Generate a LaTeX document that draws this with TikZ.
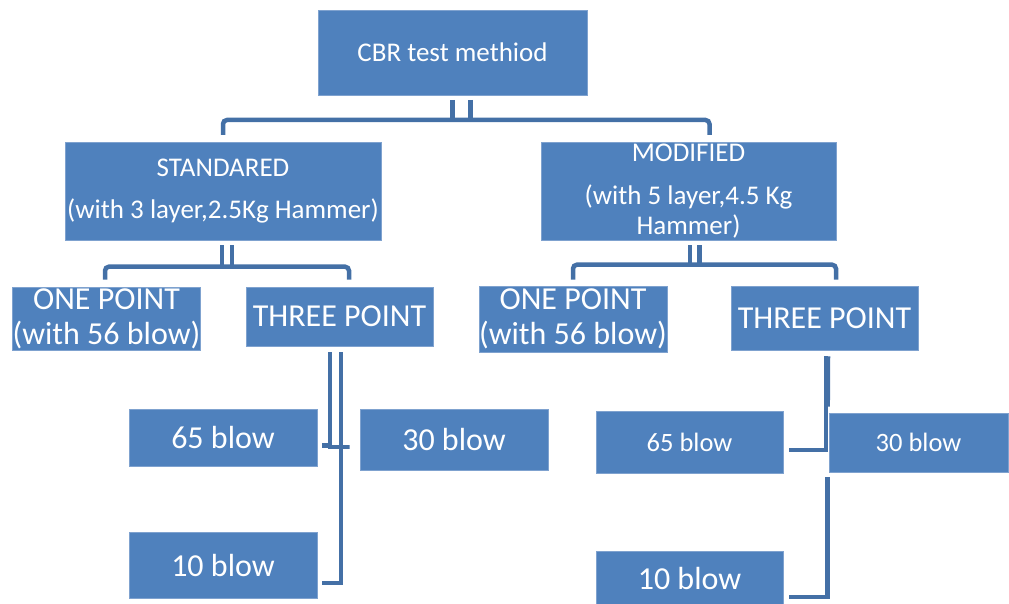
\documentclass[tikz,border=0pt]{standalone}
\usepackage{fontspec}
\setmainfont{Carlito}
\usetikzlibrary{calc}
\definecolor{boxblue}{HTML}{4F81BD}
\definecolor{boxedge}{HTML}{7FA2CF}
\definecolor{linkblue}{HTML}{4470A6}
\begin{document}
\begin{tikzpicture}[x=1pt,y=1pt,
	box/.style={ fill=boxblue, draw=boxedge, line width=0.6pt, text=white, align=center, inner sep=0pt },
	midtext/.style={ font=\fontsize{27}{30}\selectfont },
	bigtext/.style={ font=\fontsize{32}{35}\selectfont },
	smalltext/.style={ font=\fontsize{26.5}{30}\selectfont },
	link/.style={ draw=linkblue, line width=4.5pt }
]
\useasboundingbox (0,0) rectangle (1009,-604);

% connectors first, boxes on top
\coordinate (topS) at (452.5,-95);
\coordinate (stdN) at (223,-142);
\coordinate (modN) at (688.5,-142);
\draw[link] ($(topS)+(0,-5)$) -- ($(topS)+(0,-25)$);
\draw[link] ($(topS)+(18,-5)$) -- ($(topS)+(18,-25)$);
\draw[link,rounded corners=4pt] ($(stdN)+(0,7)$) |- ($(modN)+(21,22)$) -- ($(modN)+(21,7)$);

\node at (452.5,-52.5) (top) [box,midtext,minimum width=269pt,minimum height=85pt] {CBR test methiod};
\node at (223,-191) (std) [box,midtext,minimum width=316pt,minimum height=98pt] {STANDARED\\[12pt](with 3 layer,2.5Kg Hammer)};
\node at (688.5,-191) (mod) [box,midtext,minimum width=295pt,minimum height=98pt] {MODIFIED\\[13pt](with 5 layer,4.5 Kg\\Hammer)};

\node at (106.5,-318.5) (oneA) [box,bigtext,minimum width=187pt,minimum height=63pt] {ONE POINT\\(with 56 blow)};
\node at (339.5,-316.5) (threeA) [box,bigtext,minimum width=187pt,minimum height=59pt] {THREE POINT};
\node at (573,-319) (oneB) [box,bigtext,minimum width=188pt,minimum height=66pt] {ONE POINT\\(with 56 blow)};
\node at (824.5,-318) (threeB) [box,bigtext,minimum width=187pt,minimum height=64pt] {THREE POINT};

\draw[link] ($(std.south)+(-1,-5)$) -- ($(std.south)+(-1,-27)$);
\draw[link] ($(std.south)+(9,-5)$) -- ($(std.south)+(9,-27)$);
\draw[link,rounded corners=4pt] ($(oneA.north)+(-1.5,7)$) |- ($(threeA.north)+(9.5,20)$) -- ($(threeA.north)+(9.5,7)$);

\draw[link] ($(mod.south)+(1.5,-5)$) -- ($(mod.south)+(1.5,-25)$);
\draw[link] ($(mod.south)+(11,-5)$) -- ($(mod.south)+(11,-25)$);
\draw[link,rounded corners=4pt] ($(oneB.north)+(0,6)$) |- ($(threeB.north)+(11.5,21)$) -- ($(threeB.north)+(11.5,6)$);

\node at (223,-437.5) (b65A) [box,bigtext,minimum width=188pt,minimum height=57pt] {65 blow};
\node at (454,-439.5) (b30A) [box,bigtext,minimum width=188pt,minimum height=61pt] {30 blow};
\node at (223,-565) (b10A) [box,bigtext,minimum width=188pt,minimum height=66pt] {10 blow};
\node at (689.5,-442) (b65B) [box,smalltext,minimum width=187pt,minimum height=62pt] {65 blow};
\node at (918.5,-442.5) (b30B) [box,smalltext,minimum width=179pt,minimum height=59pt] {30 blow};
\node at (689.5,-578) (b10B) [box,bigtext,minimum width=187pt,minimum height=54pt] {10 blow};

\draw[link] ($(threeA.south)+(-9.5,-6)$) |- ($(b65A.east)+(5,-8)$);
\draw[link] ($(threeA.south)+(1.5,-6)$) |- ($(b30A.west)+(-10,-7.5)$) -- ($(b65A.east)+(11,-9.5)$);
\draw[link] ($(threeA.south)+(1.5,-6)$) |- ($(b10A.east)+(5,-18)$);

\draw[link] ($(threeB.south)+(1.5,-6)$) |- ($(b65B.east)+(6,-8)$);
\draw[link] ($(threeB.south)+(3.5,-6)$) -- ($(b30B.north west)+(-1,6)$);
\draw[link] ($(b30B.south west)+(-1,-5)$) |- ($(b10B.east)+(6,-19)$);

\end{tikzpicture}
\end{document}
